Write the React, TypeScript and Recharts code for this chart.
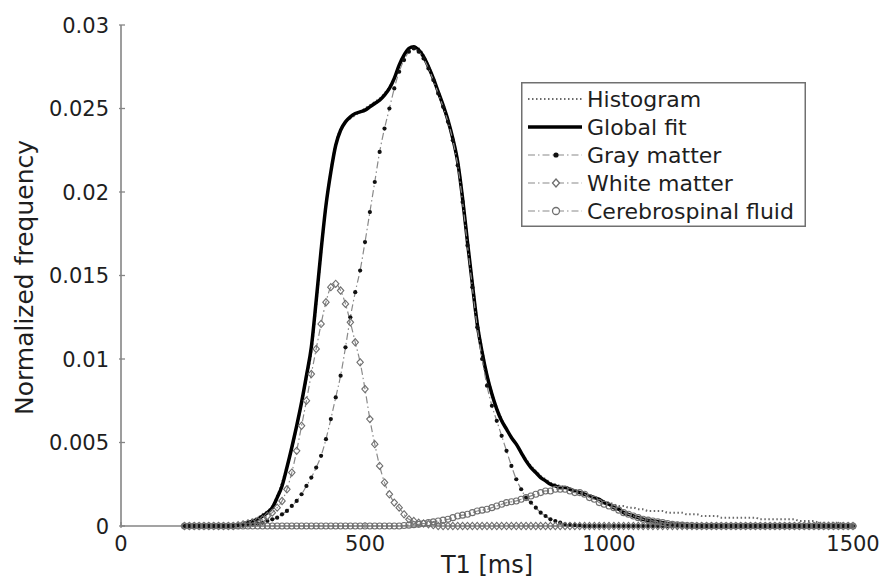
import React from "react";
import { LineChart, Line, XAxis, YAxis, Legend } from "recharts";

// T1 sample positions (ms), 10 ms apart
const T1 = [
  130, 140, 150, 160, 170, 180, 190, 200, 210, 220,
  230, 240, 250, 260, 270, 280, 290, 300, 310, 320,
  330, 340, 350, 360, 370, 380, 390, 400, 410, 420,
  430, 440, 450, 460, 470, 480, 490, 500, 510, 520,
  530, 540, 550, 560, 570, 580, 590, 600, 610, 620,
  630, 640, 650, 660, 670, 680, 690, 700, 710, 720,
  730, 740, 750, 760, 770, 780, 790, 800, 810, 820,
  830, 840, 850, 860, 870, 880, 890, 900, 910, 920,
  930, 940, 950, 960, 970, 980, 990, 1000, 1010, 1020,
  1030, 1040, 1050, 1060, 1070, 1080, 1090, 1100, 1110, 1120,
  1130, 1140, 1150, 1160, 1170, 1180, 1190, 1200, 1210, 1220,
  1230, 1240, 1250, 1260, 1270, 1280, 1290, 1300, 1310, 1320,
  1330, 1340, 1350, 1360, 1370, 1380, 1390, 1400, 1410, 1420,
  1430, 1440, 1450, 1460, 1470, 1480, 1490, 1500,
];

const HISTOGRAM = [
  0, 0, 0, 0, 0, 0, 0, 0, 0, 0,
  0.00005, 0.0001, 0.0002, 0.0003, 0.0004, 0.0005, 0.0007, 0.0009, 0.0012, 0.0018,
  0.0026, 0.0036, 0.0046, 0.0059, 0.0073, 0.0088, 0.0104, 0.0132, 0.0163, 0.0191,
  0.0213, 0.0229, 0.0238, 0.0242, 0.0244, 0.0246, 0.0248, 0.025, 0.0252, 0.0254,
  0.0256, 0.0259, 0.0263, 0.0268, 0.0275, 0.0281, 0.0285, 0.0287, 0.0286, 0.0282,
  0.0276, 0.0268, 0.0259, 0.0251, 0.0242, 0.0232, 0.0219, 0.0198, 0.0172, 0.0147,
  0.0123, 0.0106, 0.0091, 0.008, 0.0071, 0.0064, 0.0058, 0.0053, 0.0049, 0.0044,
  0.004, 0.0036, 0.0033, 0.003, 0.0028, 0.0026, 0.0025, 0.0024, 0.0023, 0.0022,
  0.0021, 0.002, 0.0019, 0.0018, 0.0017, 0.0016, 0.0015, 0.0014, 0.0013, 0.0012,
  0.0012, 0.0011, 0.0011, 0.001, 0.001, 0.0009, 0.0009, 0.0009, 0.0009, 0.0008,
  0.0008, 0.0008, 0.0008, 0.0007, 0.0007, 0.0007, 0.0006, 0.0006, 0.0006, 0.0006,
  0.0005, 0.0005, 0.0005, 0.0005, 0.0005, 0.0005, 0.0005, 0.0005, 0.0004, 0.0004,
  0.0004, 0.0004, 0.0004, 0.0004, 0.0004, 0.0004, 0.0003, 0.0003, 0.0003, 0.0003,
  0.0002, 0.0002, 0.0002, 0.0002, 0.0002, 0.0001, 0.0001, 0.0001,
];

const GLOBAL_FIT = [
  0, 0, 0, 0, 0, 0, 0, 0, 0, 0,
  0.00003, 0.00006, 0.0001, 0.0002, 0.0003, 0.0004, 0.0006, 0.0008, 0.0011, 0.0017,
  0.0024, 0.0035, 0.0047, 0.006, 0.0074, 0.009, 0.0107, 0.0135, 0.0165, 0.0192,
  0.0212, 0.0228, 0.0237, 0.0242, 0.0245, 0.0247, 0.0248, 0.0249, 0.0251, 0.0253,
  0.0255, 0.0258, 0.0262, 0.0268, 0.0276, 0.0282, 0.0286, 0.0287, 0.0285, 0.0281,
  0.0275, 0.0268, 0.026, 0.0252, 0.0243, 0.0232, 0.0218, 0.0196, 0.017, 0.0145,
  0.0121, 0.0104, 0.009, 0.0079, 0.007, 0.0063, 0.0058, 0.0053, 0.0049, 0.0044,
  0.0039, 0.0035, 0.0032, 0.0029, 0.0027, 0.0025, 0.0024, 0.0023, 0.0023, 0.0022,
  0.0021, 0.002, 0.0019, 0.0018, 0.0017, 0.0016, 0.0014, 0.0013, 0.0011, 0.001,
  0.0008, 0.0007, 0.0006, 0.0005, 0.0004, 0.00035, 0.0003, 0.00025, 0.0002, 0.00015,
  0.0001, 0.00007, 0.00005, 0.00003, 0.00002, 0.00001, 0, 0, 0, 0,
  0, 0, 0, 0, 0, 0, 0, 0, 0, 0,
  0, 0, 0, 0, 0, 0, 0, 0, 0, 0,
  0, 0, 0, 0, 0, 0, 0, 0,
];

const GRAY_MATTER = [
  0, 0, 0, 0, 0, 0, 0, 0, 0, 0,
  0, 0.00003, 0.00005, 0.00008, 0.0001, 0.00015, 0.0002, 0.0003, 0.0004, 0.0005,
  0.0007, 0.0009, 0.0012, 0.0015, 0.0019, 0.0024, 0.0029, 0.0035, 0.0042, 0.0052,
  0.0064, 0.0077, 0.009, 0.0107, 0.0125, 0.014, 0.0153, 0.017, 0.0188, 0.0206,
  0.0224, 0.0238, 0.025, 0.0262, 0.0272, 0.0279, 0.0284, 0.0286, 0.0284, 0.028,
  0.0274, 0.0267, 0.0259, 0.0251, 0.0242, 0.0231, 0.0216, 0.0194, 0.0168, 0.0143,
  0.0119, 0.01, 0.0084, 0.0072, 0.0063, 0.0054, 0.0045, 0.0036, 0.0028, 0.0022,
  0.0017, 0.0014, 0.0011, 0.0008, 0.0006, 0.0004, 0.0003, 0.0002, 0.0001, 0.00008,
  0.00005, 0.00003, 0, 0, 0, 0, 0, 0, 0, 0,
  0, 0, 0, 0, 0, 0, 0, 0, 0, 0,
  0, 0, 0, 0, 0, 0, 0, 0, 0, 0,
  0, 0, 0, 0, 0, 0, 0, 0, 0, 0,
  0, 0, 0, 0, 0, 0, 0, 0, 0, 0,
  0, 0, 0, 0, 0, 0, 0, 0,
];

const WHITE_MATTER = [
  0, 0, 0, 0, 0, 0, 0, 0, 0, 0,
  0, 0.00005, 0.0001, 0.00015, 0.0002, 0.0003, 0.0004, 0.0006, 0.0008, 0.0011,
  0.0015, 0.0022, 0.0032, 0.0045, 0.006, 0.0075, 0.0091, 0.0106, 0.0121, 0.0134,
  0.0143, 0.0145, 0.0141, 0.0133, 0.0122, 0.011, 0.0098, 0.0082, 0.0064, 0.0049,
  0.0036, 0.0026, 0.0019, 0.0014, 0.0011, 0.0007, 0.0004, 0.0003, 0.0002, 0.00015,
  0.0001, 0.00005, 0, 0, 0, 0, 0, 0, 0, 0,
  0, 0, 0, 0, 0, 0, 0, 0, 0, 0,
  0, 0, 0, 0, 0, 0, 0, 0, 0, 0,
  0, 0, 0, 0, 0, 0, 0, 0, 0, 0,
  0, 0, 0, 0, 0, 0, 0, 0, 0, 0,
  0, 0, 0, 0, 0, 0, 0, 0, 0, 0,
  0, 0, 0, 0, 0, 0, 0, 0, 0, 0,
  0, 0, 0, 0, 0, 0, 0, 0, 0, 0,
  0, 0, 0, 0, 0, 0, 0, 0,
];

const CSF = [
  0, 0, 0, 0, 0, 0, 0, 0, 0, 0,
  0, 0, 0, 0, 0, 0, 0, 0, 0, 0,
  0, 0, 0, 0, 0, 0, 0, 0, 0, 0,
  0, 0, 0, 0, 0, 0, 0, 0, 0, 0,
  0, 0, 0, 0, 0, 0.00003, 0.00005, 0.00008, 0.0001, 0.00015,
  0.0002, 0.00025, 0.0003, 0.00035, 0.0004, 0.0005, 0.0006, 0.00065, 0.0007, 0.0008,
  0.0009, 0.00095, 0.001, 0.0011, 0.0012, 0.0013, 0.0014, 0.00145, 0.0015, 0.0016,
  0.0017, 0.0018, 0.0019, 0.002, 0.0021, 0.0021, 0.0022, 0.0022, 0.0022, 0.0021,
  0.002, 0.002, 0.0019, 0.0017, 0.0016, 0.0014, 0.0013, 0.0012, 0.0011, 0.00095,
  0.0008, 0.0007, 0.0006, 0.0005, 0.0004, 0.00035, 0.0003, 0.00025, 0.0002, 0.00015,
  0.0001, 0.00007, 0.00005, 0.00003, 0.00002, 0, 0, 0, 0, 0,
  0, 0, 0, 0, 0, 0, 0, 0, 0, 0,
  0, 0, 0, 0, 0, 0, 0, 0, 0, 0,
  0, 0, 0, 0, 0, 0, 0, 0,
];

const X_TICKS = [0, 500, 1000, 1500];
const Y_TICKS = [0, 0.005, 0.01, 0.015, 0.02, 0.025, 0.03];

const data = T1.map((t, i) => ({
  t1: t,
  hist: HISTOGRAM[i],
  fit: GLOBAL_FIT[i],
  gm: GRAY_MATTER[i],
  wm: WHITE_MATTER[i],
  csf: CSF[i],
}));

const FONT = "'DejaVu Sans', Arial, sans-serif";
const INK = "#1e1e1e";
const AXIS = "#858585";
const DASHDOT = "7 3 1.5 3";

const XTick = ({ x, y, payload }: any) => (
  <g>
    <line x1={x} x2={x} y1={y} y2={y - 6} stroke={AXIS} strokeWidth={1.3} />
    <text x={x} y={y + 23} textAnchor="middle" fontFamily={FONT} fontSize={21} fill={INK}>
      {payload.value}
    </text>
  </g>
);

const YTick = ({ x, y, payload }: any) => (
  <g>
    <line x1={x} x2={x + 6} y1={y} y2={y} stroke={AXIS} strokeWidth={1.3} />
    <text x={x - 10} y={y + 7.5} textAnchor="end" fontFamily={FONT} fontSize={21} fill={INK}>
      {payload.value}
    </text>
  </g>
);

const TopTick = ({ x, y }: any) => (
  <line x1={x} x2={x} y1={y} y2={y + 6} stroke={AXIS} strokeWidth={1.3} />
);

const RightTick = ({ x, y }: any) => (
  <line x1={x} x2={x - 6} y1={y} y2={y} stroke={AXIS} strokeWidth={1.3} />
);

const XTitle = ({ viewBox }: any) => (
  <text
    x={viewBox.x + viewBox.width / 2}
    y={viewBox.y + 47}
    textAnchor="middle"
    fontFamily={FONT}
    fontSize={24}
    fill={INK}
  >
    T1 [ms]
  </text>
);

const YTitle = ({ viewBox }: any) => {
  const cx = 33;
  const cy = viewBox.y + viewBox.height / 2 + 2;
  return (
    <text
      x={cx}
      y={cy}
      transform={`rotate(-90 ${cx} ${cy})`}
      textAnchor="middle"
      fontFamily={FONT}
      fontSize={25}
      fill={INK}
    >
      Normalized frequency
    </text>
  );
};

// markers
const grayDot = (p: any) => (
  <circle key={`gm-${p.index}`} cx={p.cx} cy={p.cy} r={2.1} fill="#111" stroke="none" />
);

const whiteDot = (p: any) => (
  <path
    key={`wm-${p.index}`}
    d={`M${p.cx},${p.cy - 3.6} L${p.cx + 3.2},${p.cy} L${p.cx},${p.cy + 3.6} L${p.cx - 3.2},${p.cy} Z`}
    fill="none"
    stroke="#6e6e6e"
    strokeWidth={1.1}
  />
);

const csfDot = (p: any) => (
  <circle key={`csf-${p.index}`} cx={p.cx} cy={p.cy} r={3} fill="none" stroke="#707070" strokeWidth={1.1} />
);

const LEGEND_ROWS = ["Histogram", "Global fit", "Gray matter", "White matter", "Cerebrospinal fluid"];

function LegendBox() {
  const rowY = (i: number) => 17 + i * 28;
  return (
    <svg width={285} height={145}>
      <rect x={0.75} y={0.75} width={283.5} height={143.5} fill="#fff" stroke="#707070" strokeWidth={1.5} />
      {/* Histogram */}
      <line x1={7} x2={61} y1={rowY(0)} y2={rowY(0)} stroke="#6a6a6a" strokeWidth={2} strokeDasharray="1.5 2.5" />
      {/* Global fit */}
      <line x1={7} x2={61} y1={rowY(1)} y2={rowY(1)} stroke="#000" strokeWidth={3.5} />
      {/* Gray matter */}
      <line x1={7} x2={61} y1={rowY(2)} y2={rowY(2)} stroke="#8a8a8a" strokeWidth={1.2} strokeDasharray={DASHDOT} />
      <circle cx={35} cy={rowY(2)} r={2.6} fill="#111" />
      {/* White matter */}
      <line x1={7} x2={61} y1={rowY(3)} y2={rowY(3)} stroke="#8a8a8a" strokeWidth={1.2} strokeDasharray={DASHDOT} />
      <path
        d={`M35,${rowY(3) - 4} L38.5,${rowY(3)} L35,${rowY(3) + 4} L31.5,${rowY(3)} Z`}
        fill="#fff"
        stroke="#6e6e6e"
        strokeWidth={1.3}
      />
      {/* CSF */}
      <line x1={7} x2={61} y1={rowY(4)} y2={rowY(4)} stroke="#8a8a8a" strokeWidth={1.2} strokeDasharray={DASHDOT} />
      <circle cx={35} cy={rowY(4)} r={3.5} fill="#fff" stroke="#707070" strokeWidth={1.3} />
      {LEGEND_ROWS.map((label, i) => (
        <text key={label} x={66} y={rowY(i) + 8} fontFamily={FONT} fontSize={22} fill={INK}>
          {label}
        </text>
      ))}
    </svg>
  );
}

export default function App() {
  return (
    <div style={{ position: "absolute", left: 0, top: 0, width: 882, height: 581, background: "#fff" }}>
      <LineChart width={882} height={581} data={data} margin={{ top: 25, right: 29, bottom: 0, left: 0 }}>
        <XAxis
          dataKey="t1"
          type="number"
          domain={[0, 1500]}
          ticks={X_TICKS}
          height={55}
          tickSize={0}
          tickLine={false}
          tick={<XTick />}
          axisLine={{ stroke: AXIS, strokeWidth: 1.6 }}
          label={<XTitle />}
        />
        <XAxis
          xAxisId="top"
          orientation="top"
          type="number"
          domain={[0, 1500]}
          allowDataOverflow
          ticks={X_TICKS}
          height={0}
          tickSize={0}
          tickLine={false}
          tick={<TopTick />}
          axisLine={{ stroke: AXIS, strokeWidth: 1.6 }}
        />
        <YAxis
          type="number"
          domain={[0, 0.03]}
          ticks={Y_TICKS}
          width={121}
          tickSize={0}
          tickLine={false}
          tick={<YTick />}
          axisLine={{ stroke: AXIS, strokeWidth: 1.6 }}
          label={<YTitle />}
        />
        <YAxis
          yAxisId="right"
          orientation="right"
          type="number"
          domain={[0, 0.03]}
          allowDataOverflow
          ticks={Y_TICKS}
          width={0}
          tickSize={0}
          tickLine={false}
          tick={<RightTick />}
          axisLine={{ stroke: AXIS, strokeWidth: 1.6 }}
        />
        <Legend
          layout="horizontal"
          verticalAlign="middle"
          align="center"
          wrapperStyle={{ left: 521, top: 82, width: 285, height: 145 }}
          content={() => <LegendBox />}
        />
        <Line
          type="monotone"
          dataKey="hist"
          name="Histogram"
          stroke="#6a6a6a"
          strokeWidth={2}
          strokeDasharray="1.5 2.5"
          dot={false}
          isAnimationActive={false}
        />
        <Line
          type="monotone"
          dataKey="fit"
          name="Global fit"
          stroke="#000"
          strokeWidth={3.5}
          dot={false}
          isAnimationActive={false}
        />
        <Line
          type="monotone"
          dataKey="gm"
          name="Gray matter"
          stroke="#8a8a8a"
          strokeWidth={1.2}
          strokeDasharray={DASHDOT}
          dot={grayDot}
          isAnimationActive={false}
        />
        <Line
          type="monotone"
          dataKey="wm"
          name="White matter"
          stroke="#8a8a8a"
          strokeWidth={1.2}
          strokeDasharray={DASHDOT}
          dot={whiteDot}
          isAnimationActive={false}
        />
        <Line
          type="monotone"
          dataKey="csf"
          name="Cerebrospinal fluid"
          stroke="#8a8a8a"
          strokeWidth={1.2}
          strokeDasharray={DASHDOT}
          dot={csfDot}
          isAnimationActive={false}
        />
      </LineChart>
    </div>
  );
}
